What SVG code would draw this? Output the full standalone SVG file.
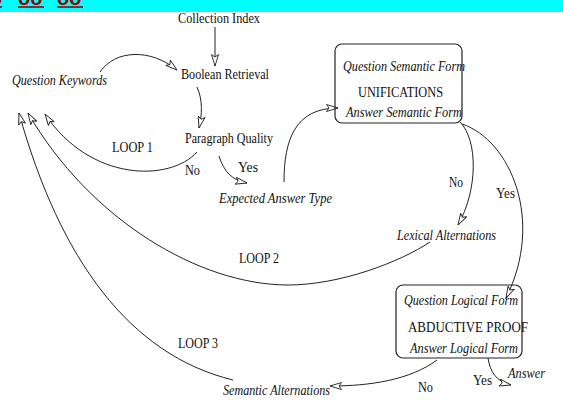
<svg xmlns="http://www.w3.org/2000/svg" width="563" height="410" viewBox="0 0 563 410">
<defs>
<style>
.t{font-family:"Liberation Serif","DejaVu Serif",serif;font-size:14px;fill:#111}
.i{font-style:italic}
.c{fill:none;stroke:#222;stroke-width:1}
.box{fill:none;stroke:#222;stroke-width:1.2}
.hdr{font-family:"Liberation Sans",Arial,sans-serif;font-size:20px;font-weight:bold;fill:#990000}
</style>
<marker id="ah" viewBox="0 0 12 8" refX="12" refY="4" markerWidth="12" markerHeight="8" markerUnits="userSpaceOnUse" orient="auto">
<path d="M0.5,0.5 L12,4 L0.5,7.5 L3,4 z" fill="#fff" stroke="#222" stroke-width="0.9"/>
</marker>
</defs>
<rect width="563" height="410" fill="#fff"/>
<g id="header">
<rect x="0" y="0" width="563" height="12" fill="#00FFFF"/>
<text class="hdr" x="-10" y="5">o</text>
<text class="hdr" x="18" y="5">oo</text>
<text class="hdr" x="57" y="5">oo</text>
<g stroke="#990000" stroke-width="1.6">
<line x1="0" y1="7" x2="2" y2="7"/>
<line x1="18" y1="7" x2="44" y2="7"/>
<line x1="57" y1="7" x2="83" y2="7"/>
</g>
</g>
<g id="connectors">
<path class="c" d="M215,27 L215,66" marker-end="url(#ah)"/>
<path class="c" d="M100,72 C115,50 150,48 177,70" marker-end="url(#ah)"/>
<path class="c" d="M197,87 C203,100 202,115 199,128" marker-end="url(#ah)"/>
<path class="c" d="M197,152 C170,182 90,182 45,114" marker-end="url(#ah)"/>
<path class="c" d="M219,156 C224,172 232,180 247,183" marker-end="url(#ah)"/>
<path class="c" d="M284,182 C284,140 295,108 338,108" marker-end="url(#ah)"/>
<path class="c" d="M460,122 C478,140 478,190 458,225" marker-end="url(#ah)"/>
<path class="c" d="M462,124 C510,140 545,220 506,298" marker-end="url(#ah)"/>
<path class="c" d="M430,242 C400,262 340,285 288,285 C200,285 90,220 28,113" marker-end="url(#ah)"/>
<path class="c" d="M233,380 C130,355 60,260 19,113" marker-end="url(#ah)"/>
<path class="c" d="M437,360 C410,380 370,386 330,386" marker-end="url(#ah)"/>
<path class="c" d="M488,358 C490,372 497,382 511,385" marker-end="url(#ah)"/>
</g>
<g id="labels">
<text class="t" x="112" y="152" textLength="41" lengthAdjust="spacingAndGlyphs">LOOP 1</text>
<text class="t" x="185" y="175" textLength="15" lengthAdjust="spacingAndGlyphs">No</text>
<text class="t" x="238" y="172" textLength="20" lengthAdjust="spacingAndGlyphs">Yes</text>
<text class="t" x="449" y="187" textLength="14" lengthAdjust="spacingAndGlyphs">No</text>
<text class="t" x="496" y="198" textLength="19" lengthAdjust="spacingAndGlyphs">Yes</text>
<text class="t" x="239" y="263" textLength="40" lengthAdjust="spacingAndGlyphs">LOOP 2</text>
<text class="t" x="178" y="348" textLength="40" lengthAdjust="spacingAndGlyphs">LOOP 3</text>
<text class="t" x="418" y="392" textLength="15" lengthAdjust="spacingAndGlyphs">No</text>
<text class="t" x="473" y="385" textLength="19" lengthAdjust="spacingAndGlyphs">Yes</text>
</g>
<g id="collection-index">
<text class="t" x="178" y="23" textLength="82" lengthAdjust="spacingAndGlyphs">Collection Index</text>
</g>
<g id="question-keywords">
<text class="t i" x="12" y="85" textLength="95" lengthAdjust="spacingAndGlyphs">Question Keywords</text>
</g>
<g id="boolean-retrieval">
<text class="t" x="181" y="79" textLength="88" lengthAdjust="spacingAndGlyphs">Boolean Retrieval</text>
</g>
<g id="paragraph-quality">
<text class="t" x="185" y="143" textLength="88" lengthAdjust="spacingAndGlyphs">Paragraph Quality</text>
</g>
<g id="expected-answer-type">
<text class="t i" x="219" y="203" textLength="113" lengthAdjust="spacingAndGlyphs">Expected Answer Type</text>
</g>
<g id="unifications">
<rect class="box" x="335" y="44" width="127" height="79" rx="7"/>
<text class="t i" x="343" y="71" textLength="122" lengthAdjust="spacingAndGlyphs">Question Semantic Form</text>
<text class="t" x="358" y="97" textLength="85" lengthAdjust="spacingAndGlyphs">UNIFICATIONS</text>
<text class="t i" x="346" y="117" textLength="116" lengthAdjust="spacingAndGlyphs">Answer Semantic Form</text>
</g>
<g id="lexical-alternations">
<text class="t i" x="397" y="240" textLength="99" lengthAdjust="spacingAndGlyphs">Lexical Alternations</text>
</g>
<g id="abductive-proof">
<rect class="box" x="396" y="285" width="126" height="73" rx="7"/>
<text class="t i" x="404" y="305" textLength="114" lengthAdjust="spacingAndGlyphs">Question Logical Form</text>
<text class="t" x="408" y="332" textLength="120" lengthAdjust="spacingAndGlyphs">ABDUCTIVE  PROOF</text>
<text class="t i" x="410" y="353" textLength="108" lengthAdjust="spacingAndGlyphs">Answer Logical Form</text>
</g>
<g id="semantic-alternations">
<text class="t i" x="223" y="395" textLength="107" lengthAdjust="spacingAndGlyphs">Semantic Alternations</text>
</g>
<g id="answer">
<text class="t i" x="508" y="378" textLength="37" lengthAdjust="spacingAndGlyphs">Answer</text>
</g>
</svg>
